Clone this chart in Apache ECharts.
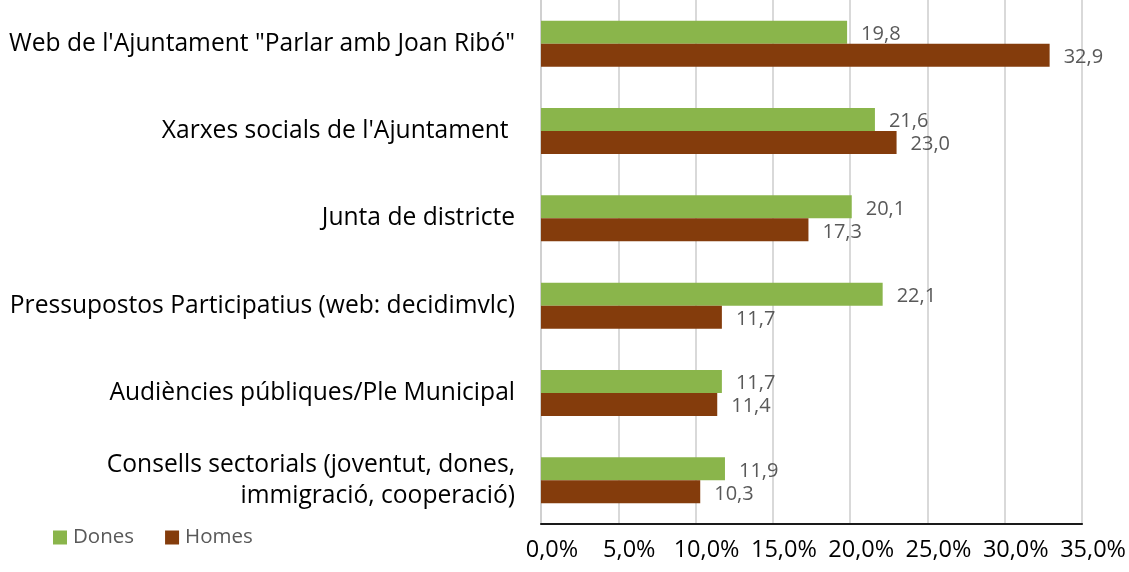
<!DOCTYPE html>
<html>
<head>
<meta charset="utf-8">
<script src="https://cdn.jsdelivr.net/npm/echarts@6/dist/echarts.min.js"></script>
<style>
  html, body { margin: 0; padding: 0; background: #fff; }
  #chart { width: 1129px; height: 572px; }
</style>
</head>
<body>
<div id="chart"></div>
<script>
// Participation channels (top to bottom) and share of respondents by sex, in %
const categories = [
  "Web de l'Ajuntament \"Parlar amb Joan Ribó\"",
  "Xarxes socials de l'Ajuntament ",
  "Junta de districte",
  "Pressupostos Participatius (web: decidimvlc)",
  "Audiències públiques/Ple Municipal",
  "Consells sectorials (joventut, dones,\nimmigració, cooperació)"
];
const dones = [19.8, 21.6, 20.1, 22.1, 11.7, 11.9];
const homes = [32.9, 23.0, 17.3, 11.7, 11.4, 10.3];
const seriesNames = ['Dones', 'Homes'];
const xTicks = { min: 0, max: 35, step: 5 };

const FONT = '"Open Sans", "Liberation Sans", sans-serif';
const comma = v => v.toFixed(1).replace('.', ',');

const chart = echarts.init(document.getElementById('chart'), null, { renderer: 'canvas' });

const barLabel = {
  show: true,
  position: 'right',
  distance: 14,
  offset: [0, 2],
  color: '#595959',
  fontFamily: FONT,
  fontSize: 20,
  formatter: p => comma(p.value)
};

chart.setOption({
  animation: false,
  backgroundColor: '#ffffff',
  grid: { left: 541, right: 46, top: -1, bottom: 48, containLabel: false },
  legend: {
    left: 53,
    top: 527,
    padding: 0,
    itemWidth: 14,
    itemHeight: 14,
    itemGap: 31,
    icon: 'rect',
    data: seriesNames,
    textStyle: { color: '#595959', fontFamily: FONT, fontSize: 20.5, padding: [0, 0, 0, 1] }
  },
  xAxis: {
    type: 'value',
    min: xTicks.min,
    max: xTicks.max,
    interval: xTicks.step,
    axisLine: { show: true, lineStyle: { color: '#1a1a1a', width: 2 } },
    axisTick: { show: false },
    splitLine: { show: true, lineStyle: { color: '#d9d9d9', width: 2 } },
    axisLabel: {
      color: '#000',
      fontFamily: FONT,
      fontSize: 23.5,
      margin: 14,
      padding: [0, 0, 0, 22],
      formatter: v => comma(v) + '%'
    }
  },
  yAxis: {
    type: 'category',
    inverse: true,
    data: categories,
    axisLine: { show: true, lineStyle: { color: '#d0d0d0', width: 2 } },
    axisTick: { show: false },
    axisLabel: {
      color: '#000',
      fontFamily: FONT,
      fontSize: 24.6,
      margin: 26,
      align: 'right',
      lineHeight: 31
    }
  },
  series: [
    {
      name: seriesNames[0],
      type: 'bar',
      data: dones,
      barWidth: 23,
      barGap: '0%',
      itemStyle: { color: '#8ab54b' },
      label: barLabel
    },
    {
      name: seriesNames[1],
      type: 'bar',
      data: homes,
      barWidth: 23,
      barGap: '0%',
      itemStyle: { color: '#843c0c' },
      label: barLabel
    }
  ]
});
</script>
</body>
</html>
